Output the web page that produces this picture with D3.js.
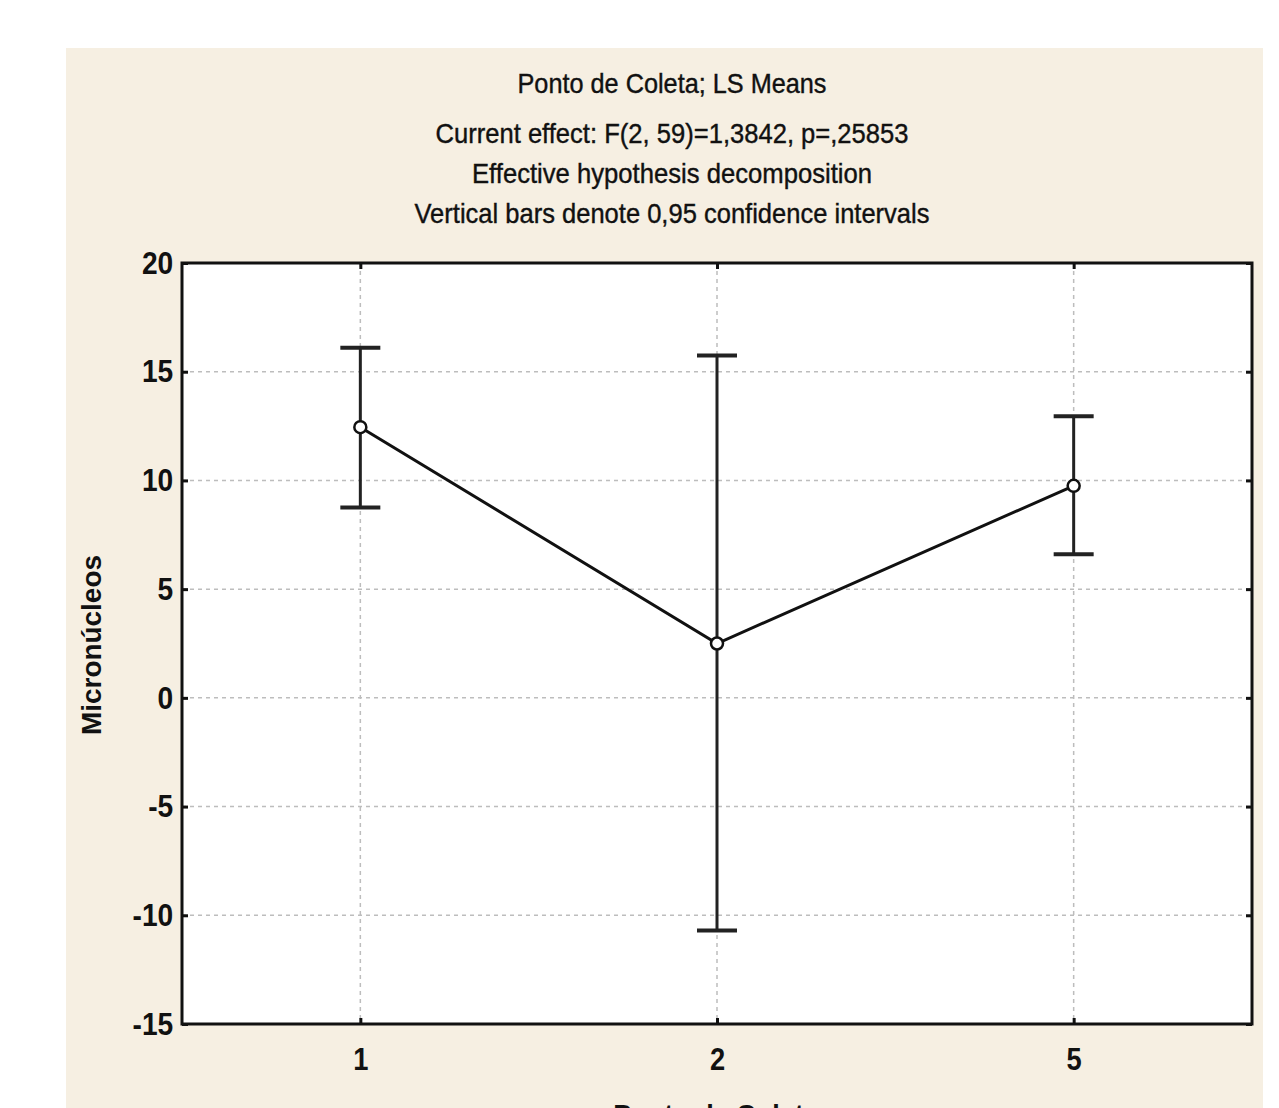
<!DOCTYPE html>
<html>
<head>
<meta charset="utf-8">
<script src="https://cdn.jsdelivr.net/npm/d3@7"></script>
<style>
  body { margin: 0; background: #fff; }
  svg text { font-family: "Liberation Sans Narrow", "Arial Narrow", "Liberation Sans", Arial, sans-serif; }
</style>
</head>
<body>
<script>
// values
const categories = ["1", "2", "5"];
const means = [12.45, 2.5, 9.75];
const ciLower = [8.75, -10.7, 6.6];
const ciUpper = [16.1, 15.75, 12.95];
const yTicks = [-15, -10, -5, 0, 5, 10, 15, 20];
const titleLines = [
    "Ponto de Coleta; LS Means",
    "Current effect: F(2, 59)=1,3842, p=,25853",
    "Effective hypothesis decomposition",
    "Vertical bars denote 0,95 confidence intervals"
];

const width = 1279;
const height = 1108;
const plot = { left: 182, right: 1252, top: 263, bottom: 1024 };

const svg = d3.select("body")
    .append("svg")
    .attr("width", width)
    .attr("height", height);

// beige panel
svg.append("rect")
    .attr("x", 66).attr("y", 48)
    .attr("width", 1197).attr("height", 1100)
    .attr("fill", "#f6efe2");

svg.append("rect")
    .attr("x", plot.left).attr("y", plot.top)
    .attr("width", plot.right - plot.left)
    .attr("height", plot.bottom - plot.top)
    .attr("fill", "#fff");

const x = d3.scalePoint()
    .domain(categories)
    .range([plot.left, plot.right])
    .padding(0.5);

const y = d3.scaleLinear()
    .domain([-15, 20])
    .range([plot.bottom, plot.top]);

// grid
const grid = svg.append("g")
    .attr("stroke", "#bdbdbd")
    .attr("stroke-width", 1.5)
    .attr("stroke-dasharray", "4,4");

grid.selectAll("line.h")
    .data(yTicks.filter(d => d > -15 && d < 20))
    .enter().append("line")
    .attr("class", "h")
    .attr("x1", plot.left).attr("x2", plot.right)
    .attr("y1", d => y(d)).attr("y2", d => y(d));

grid.selectAll("line.v")
    .data(categories)
    .enter().append("line")
    .attr("class", "v")
    .attr("x1", d => x(d)).attr("x2", d => x(d))
    .attr("y1", plot.top).attr("y2", plot.bottom);

// axes with inward ticks
const yAxis = d3.axisLeft(y).tickValues(yTicks).tickSize(-6).tickPadding(10)
    .tickFormat(d => String(d));
const xAxis = d3.axisBottom(x).tickSize(-6).tickPadding(24);

const gy = svg.append("g")
    .attr("transform", "translate(" + plot.left + ",0)")
    .call(yAxis);

const gx = svg.append("g")
    .attr("transform", "translate(0," + plot.bottom + ")")
    .call(xAxis);

svg.append("g")
    .attr("transform", "translate(0," + plot.top + ")")
    .call(d3.axisTop(x).tickSize(-6).tickFormat(""));

svg.append("g")
    .attr("transform", "translate(" + plot.right + ",0)")
    .call(d3.axisRight(y).tickValues(yTicks).tickSize(-6).tickFormat(""));

svg.selectAll(".domain").remove();
svg.selectAll(".tick line").attr("stroke", "#111").attr("stroke-width", 3);

gy.selectAll("text")
    .attr("font-size", 32)
    .attr("font-weight", "bold")
    .attr("fill", "#111")
    .attr("transform", "scale(0.88,1)");

gx.selectAll("text")
    .attr("font-size", 31)
    .attr("font-weight", "bold")
    .attr("fill", "#111")
    .attr("transform", "scale(0.88,1)");

// border
svg.append("rect")
    .attr("x", plot.left).attr("y", plot.top)
    .attr("width", plot.right - plot.left)
    .attr("height", plot.bottom - plot.top)
    .attr("fill", "none")
    .attr("stroke", "#111")
    .attr("stroke-width", 3);

// error bars
const bars = svg.append("g")
    .attr("stroke", "#222")
    .attr("stroke-width", 3);

categories.forEach((c, i) => {
    bars.append("line")
        .attr("x1", x(c)).attr("x2", x(c))
        .attr("y1", y(ciLower[i])).attr("y2", y(ciUpper[i]));
    [ciLower[i], ciUpper[i]].forEach(v => {
        bars.append("line")
            .attr("x1", x(c) - 20).attr("x2", x(c) + 20)
            .attr("y1", y(v)).attr("y2", y(v))
            .attr("stroke-width", 4);
    });
});

// mean line and points
const line = d3.line()
    .x((d, i) => x(categories[i]))
    .y(d => y(d));

svg.append("path")
    .datum(means)
    .attr("d", line)
    .attr("fill", "none")
    .attr("stroke", "#111")
    .attr("stroke-width", 3);

svg.selectAll("circle.mean")
    .data(means)
    .enter().append("circle")
    .attr("class", "mean")
    .attr("cx", (d, i) => x(categories[i]))
    .attr("cy", d => y(d))
    .attr("r", 6)
    .attr("fill", "#fff")
    .attr("stroke", "#111")
    .attr("stroke-width", 2.5);

// titles
const titleY = [93, 143, 183, 223];
const titleW = [309, 473, 400, 515];
svg.append("g")
    .selectAll("text")
    .data(titleLines)
    .enter().append("text")
    .attr("x", 672)
    .attr("y", (d, i) => titleY[i])
    .attr("text-anchor", "middle")
    .attr("font-size", 28)
    .attr("fill", "#111")
    .attr("stroke", "#111")
    .attr("stroke-width", 0.4)
    .attr("textLength", (d, i) => titleW[i])
    .attr("lengthAdjust", "spacingAndGlyphs")
    .text(d => d);

svg.append("text")
    .attr("transform", "translate(101,645) rotate(-90)")
    .attr("text-anchor", "middle")
    .attr("font-size", 27)
    .attr("font-weight", "bold")
    .attr("fill", "#111")
    .attr("textLength", 180)
    .attr("lengthAdjust", "spacingAndGlyphs")
    .text("Micronúcleos");

svg.append("text")
    .attr("x", 716)
    .attr("y", 1124)
    .attr("text-anchor", "middle")
    .attr("font-size", 27)
    .attr("font-weight", "bold")
    .attr("fill", "#111")
    .text("Ponto de Coleta");
</script>
</body>
</html>
